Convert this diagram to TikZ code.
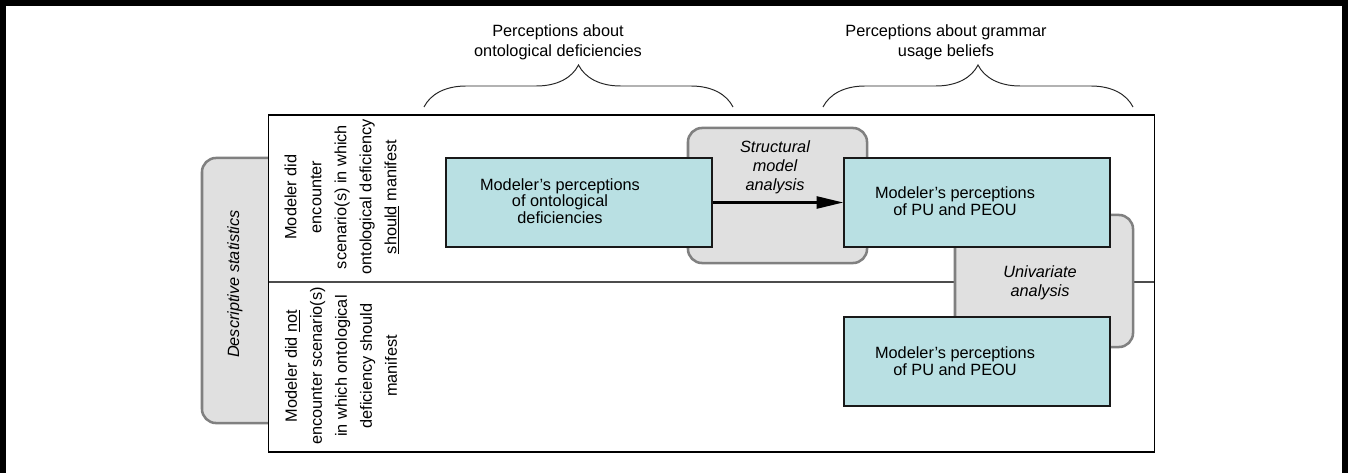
\documentclass[tikz,border=0pt]{standalone}
\usepackage{fontspec}
\setmainfont{Liberation Sans}
\usetikzlibrary{positioning,arrows.meta,calc,decorations.pathreplacing}
\definecolor{cellblue}{RGB}{185,224,227}
\definecolor{methodfill}{RGB}{224,224,224}
\definecolor{methodedge}{RGB}{128,128,128}

\begin{document}
\begin{tikzpicture}[x=0.025cm,y=-0.025cm,>=Latex,
  every node/.style={font=\fontsize{11.6}{14.2}\selectfont},
  cell/.style={draw=black!90,line width=0.9pt,fill=cellblue,inner sep=0pt,
    minimum width=6.65cm,minimum height=2.225cm},
  method/.style={draw=methodedge,line width=1.8pt,fill=methodfill,
    rounded corners=10pt,inner sep=0pt},
  celltext/.style={align=center,font=\fontsize{11.6}{11.8}\selectfont},
  methodtext/.style={align=center,font=\fontsize{11.6}{13.5}\selectfont\itshape},
  rowtext/.style={rotate=90,align=center,font=\fontsize{11.6}{17.8}\selectfont},
  grouptext/.style={align=center},
  bracket/.style={decorate,decoration={brace,amplitude=1.05cm},
    draw=black!85,line width=0.7pt}]
  \useasboundingbox (0,0) rectangle (1348,473);
  % outer frame
  \draw[line width=4.3pt] (3,473) -- (3,3) -- (1345,3) -- (1345,473);

  % left tab and the table
  \node[method,minimum width=2.45cm,minimum height=6.625cm] (descr) at (251,290.5) {};
  \node[methodtext,rotate=90] (descrT) at (235,284) {Descriptive statistics};
  \node[draw=black,line width=0.8pt,fill=white,inner sep=0pt,
    minimum width=22.125cm,minimum height=8.425cm] (tbl) at (711.5,283.5) {};
  \coordinate (divL) at (269,282);
  \coordinate (divR) at (1154,282);
  \draw[line width=1.5pt,black!70] (divL) -- (divR);
  \node[rowtext] (rowYes) at (342,197) {Modeler did\\encounter\\scenario(s) in which\\ontological deficiency\\\underline{should} manifest};
  \node[rowtext] (rowNo) at (341,366) {Modeler did \underline{not}\\encounter scenario(s)\\in which ontological\\deficiency should\\manifest};

  % analyses
  \node[method,minimum width=4.475cm,minimum height=3.375cm] (structural) at (777.5,195.5) {};
  \node[methodtext] (structT) at (775,167) {Structural\\model\\analysis};
  \node[method,minimum width=4.45cm,minimum height=3.3cm] (univariate) at (1044,281) {};
  \node[methodtext] (uniT) at (1040,283) {Univariate\\analysis};

  % perception boxes
  \node[cell] (ont) at (579,202.5) {};
  \node[celltext] (ontT) at (560,201) {Modeler's perceptions\\of ontological\\deficiencies};
  \node[cell] (puTop) at (977,202.5) {};
  \node[celltext] (puTopT) at (955,201) {Modeler's perceptions\\of PU and PEOU};
  \node[cell] (puBot) at (977,361.5) {};
  \node[celltext] (puBotT) at (955,361) {Modeler's perceptions\\of PU and PEOU};
  \draw[-{Triangle[length=19pt,width=8.5pt]},line width=1.9pt] (ont) -- (puTop);

  % braces and headings
  \coordinate (b1l) at (424,107); \coordinate (b1r) at (733,107);
  \coordinate (b2l) at (823,107); \coordinate (b2r) at (1133,107);
  \draw[bracket] (b1l) -- (b1r);
  \draw[bracket] (b2l) -- (b2r);
  \node[grouptext] (labOnt) at (558,42) {Perceptions about\\ontological deficiencies};
  \node[grouptext] (labGram) at (946,42) {Perceptions about grammar\\usage beliefs};
\end{tikzpicture}
\end{document}
